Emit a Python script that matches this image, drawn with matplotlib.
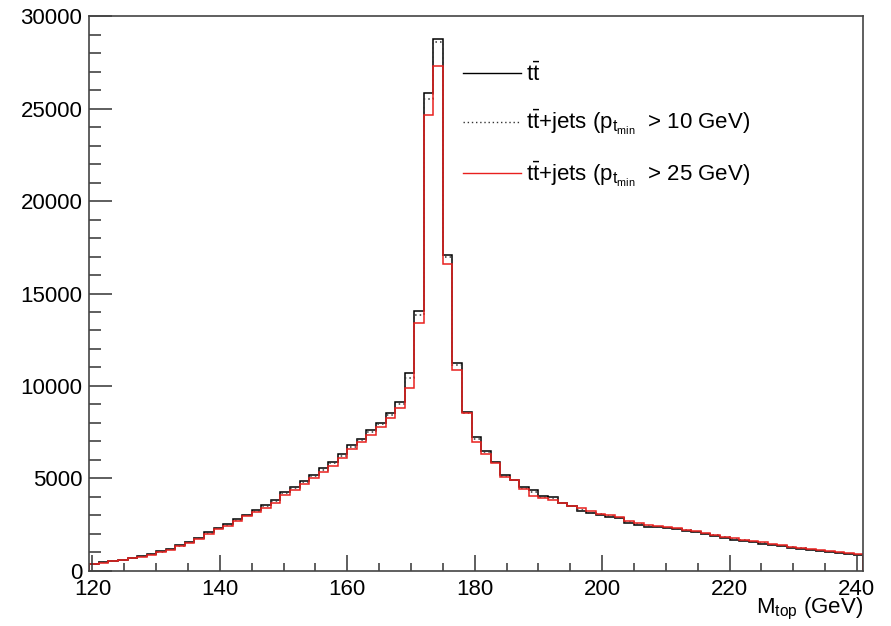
import matplotlib
matplotlib.use("Agg")
import matplotlib.pyplot as plt
from matplotlib.lines import Line2D
import numpy as np

# histogram binning (GeV)
bin_lo = 119.5
bin_width = 1.5

# bin contents
tt = [
    400, 470, 540, 620, 700, 800, 920, 1060, 1200, 1380,
    1580, 1800, 2100, 2350, 2550, 2800, 3050, 3300, 3550, 3850,
    4250, 4550, 4850, 5200, 5550, 5900, 6300, 6800, 7150, 7600,
    8000, 8550, 9150, 10690, 14050, 25820, 28740, 17080, 11260, 8580,
    7260, 6490, 5910, 5190, 4920, 4520, 4380, 4050, 3980, 3660,
    3510, 3240, 3120, 3030, 2940, 2850, 2580, 2470, 2400, 2360,
    2320, 2250, 2180, 2080, 1980, 1880, 1780, 1690, 1610, 1540,
    1470, 1400, 1330, 1250, 1190, 1130, 1070, 1010, 960, 910,
    860,
]
ttjets_10 = [
    390, 465, 535, 615, 690, 790, 905, 1040, 1185, 1360,
    1560, 1770, 2060, 2310, 2510, 2760, 3010, 3250, 3500, 3790,
    4190, 4490, 4790, 5140, 5480, 5830, 6230, 6720, 7080, 7520,
    7930, 8450, 9030, 10450, 13850, 25500, 28600, 16950, 11150, 8560,
    7150, 6420, 5890, 5160, 4920, 4480, 4250, 4000, 3920, 3660,
    3510, 3300, 3160, 3060, 2980, 2890, 2630, 2520, 2450, 2400,
    2350, 2280, 2210, 2110, 2020, 1920, 1820, 1730, 1650, 1575,
    1505, 1430, 1360, 1285, 1220, 1160, 1100, 1040, 985, 935,
    885,
]
ttjets_25 = [
    380, 450, 520, 600, 680, 780, 890, 1020, 1160, 1330,
    1520, 1730, 2000, 2250, 2450, 2700, 2950, 3180, 3420, 3700,
    4100, 4400, 4700, 5050, 5350, 5700, 6100, 6600, 6950, 7350,
    7800, 8250, 8795, 9875, 13420, 24650, 27300, 16580, 10865, 8525,
    6990, 6320, 5860, 5100, 4920, 4420, 4050, 3930, 3840, 3660,
    3510, 3420, 3240, 3100, 3020, 2940, 2700, 2580, 2500, 2440,
    2380, 2310, 2240, 2150, 2060, 1960, 1860, 1770, 1690, 1610,
    1540, 1460, 1390, 1320, 1250, 1190, 1130, 1070, 1010, 960,
    910,
]

labels = [
    r"$\mathrm{t\bar{t}}$",
    r"$\mathrm{t\bar{t}}$+jets ($\mathrm{p_{t_{min}}}$  > 10 GeV)",
    r"$\mathrm{t\bar{t}}$+jets ($\mathrm{p_{t_{min}}}$  > 25 GeV)",
]

plt.rcParams["font.family"] = "Liberation Sans"
plt.rcParams["mathtext.fontset"] = "custom"
plt.rcParams["mathtext.rm"] = "Liberation Sans"
plt.rcParams["mathtext.it"] = "Liberation Sans:italic"

red = "#e8201e"
lw = 1.1

fig = plt.figure(figsize=(8.91, 6.26), dpi=100)
ax = fig.add_axes([0.1002, 0.0879, 0.8687, 0.8865])

edges = bin_lo + bin_width * np.arange(len(tt) + 1)
ax.stairs(tt, edges, color="black", linewidth=lw)
ax.stairs(ttjets_10, edges, color="#333333", linewidth=1.1, linestyle=(0, (1, 2)))
ax.stairs(ttjets_25, edges, color=red, linewidth=lw)

ax.set_xlim(edges[0], edges[-1])
ax.set_ylim(0, 30000)

ax.set_xticks(np.arange(120, 241, 20))
ax.set_xticks(np.arange(120, 241, 5), minor=True)
ax.set_yticks(np.arange(0, 30001, 5000))
ax.set_yticks(np.arange(0, 30001, 1000), minor=True)

ax.tick_params(axis="x", which="major", direction="in", length=11.5, width=1.1,
               labelsize=16, pad=6, color="#333333")
ax.tick_params(axis="x", which="minor", direction="in", length=5.8, width=1.1,
               color="#333333")
ax.tick_params(axis="y", which="major", direction="in", length=16.5, width=1.1,
               labelsize=16, pad=5, color="#333333")
ax.tick_params(axis="y", which="minor", direction="in", length=8.3, width=1.1,
               color="#333333")
for sp in ax.spines.values():
    sp.set_linewidth(1.2)
    sp.set_color("#444444")

ax.text(1.0, -0.045, r"M$_{\mathrm{top}}$ (GeV)", transform=ax.transAxes,
        ha="right", va="top", fontsize=16)

handles = [
    Line2D([], [], color="black", linewidth=1.0),
    Line2D([], [], color="#333333", linewidth=1.0, linestyle=(0, (1, 2))),
    Line2D([], [], color=red, linewidth=1.0),
]
ax.legend(handles, labels, loc="upper left", bbox_to_anchor=(0.457, 0.952),
          frameon=False, fontsize=16, handlelength=2.6, handletextpad=0.25,
          labelspacing=1.0)

fig.savefig("out.png", dpi=100)
